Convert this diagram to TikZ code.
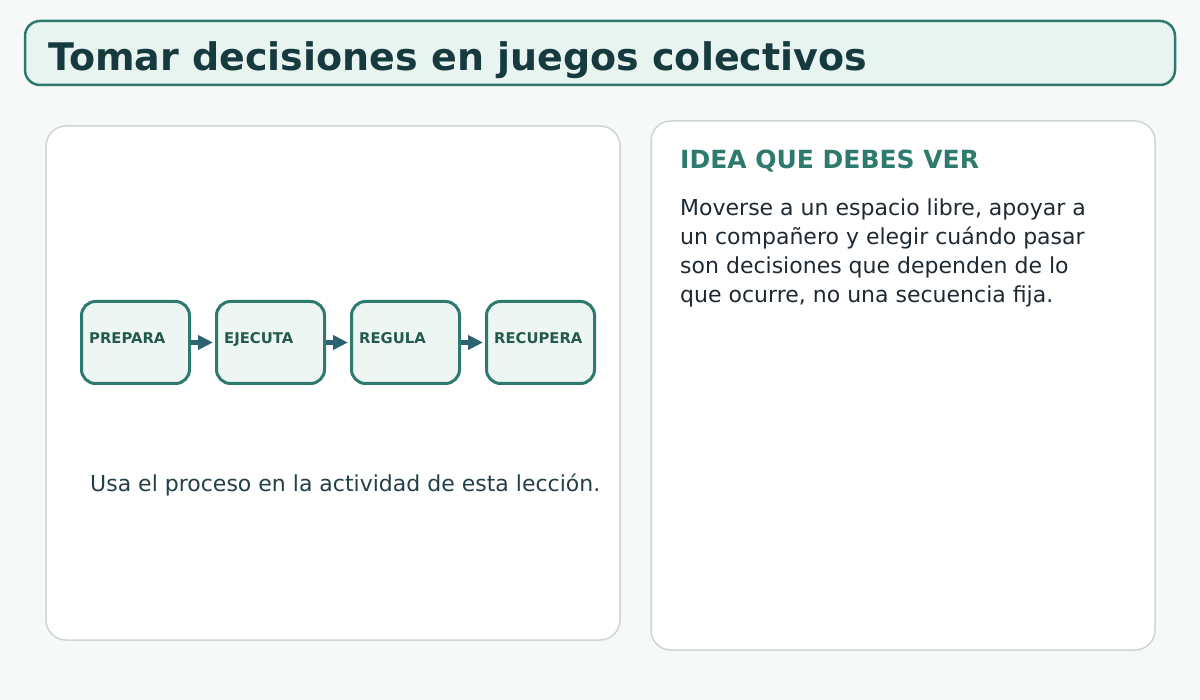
\documentclass[tikz,border=0pt]{standalone}
\usepackage{fontspec}
\setmainfont{DejaVu Sans}
\definecolor{pagebg}{HTML}{F7F9F8}
\definecolor{titlefill}{HTML}{E8F4F0}
\definecolor{titleink}{HTML}{173A3E}
\definecolor{mainteal}{HTML}{2E7A6E}
\definecolor{panelgray}{HTML}{CDD5D9}
\definecolor{boxfill}{HTML}{EEF6F3}
\definecolor{stepink}{HTML}{245A4E}
\definecolor{arrowteal}{HTML}{2B6373}
\definecolor{bodyink}{HTML}{1E2933}
\definecolor{noteink}{HTML}{22404A}
\usetikzlibrary{arrows.meta, positioning}

\begin{document}
\begin{tikzpicture}[x=1pt, y=-1pt,
  panel/.style={draw=panelgray, line width=1.5pt, fill=white, rounded corners=20pt, inner sep=0pt},
  stepbox/.style={draw=mainteal, line width=3pt, fill=boxfill, rounded corners=14pt,
    minimum width=108pt, minimum height=82pt, inner sep=0pt, anchor=north west},
  steplbl/.style={font=\bfseries\fontsize{14.8}{16}\selectfont, text=stepink, inner sep=0pt, anchor=base west},
  flow/.style={draw=arrowteal, line width=5pt, shorten >=2pt, -{Triangle[length=15pt,width=14pt]}},
  bodytxt/.style={font=\fontsize{22}{29}\selectfont, inner sep=0pt, anchor=base west}]
  % page and frames
  \fill[pagebg] (0,0) rectangle (1200,700);
  \node[draw=mainteal, line width=2.5pt, fill=titlefill, rounded corners=15pt,
    minimum width=1150pt, minimum height=64pt, inner sep=0pt] (titlebar) at (600,53) {};
  \node[font=\bfseries\fontsize{38}{42}\selectfont, text=titleink, inner sep=0pt, anchor=base west]
    (title) at (48,71) {Tomar decisiones en juegos colectivos};
  \node[panel, minimum width=574pt, minimum height=514pt] (leftpanel) at (333,383) {};
  \node[panel, minimum width=504pt, minimum height=529pt] (rightpanel) at (903,385.5) {};

  % process steps
  \foreach \x/\name/\txt in {80/prepara/PREPARA, 215/ejecuta/EJECUTA, 350/regula/REGULA, 485/recupera/RECUPERA} {
    \node[stepbox] (\name) at (\x,300) {};
    \node[steplbl] (\name-lbl) at (\x+9,344) {\txt};
  }
  \foreach \a/\b in {prepara/ejecuta, ejecuta/regula, regula/recupera}
    \draw[flow] (\a) -- (\b);

  \node[bodytxt, text=noteink] (note) at (90,491) {Usa el proceso en la actividad de esta lección.};

  % idea panel
  \node[font=\bfseries\fontsize{25}{29}\selectfont, text=mainteal, inner sep=0pt, anchor=base west]
    (ideahead) at (680,169) {IDEA QUE DEBES VER};
  \foreach \y/\txt [count=\i] in {
    216/{Moverse a un espacio libre, apoyar a},
    245/{un compañero y elegir cuándo pasar},
    274/{son decisiones que dependen de lo},
    303/{que ocurre, no una secuencia fija.}
  } {
    \node[bodytxt, text=bodyink] (idea\i) at (680,\y) {\txt};
  }
\end{tikzpicture}
\end{document}
